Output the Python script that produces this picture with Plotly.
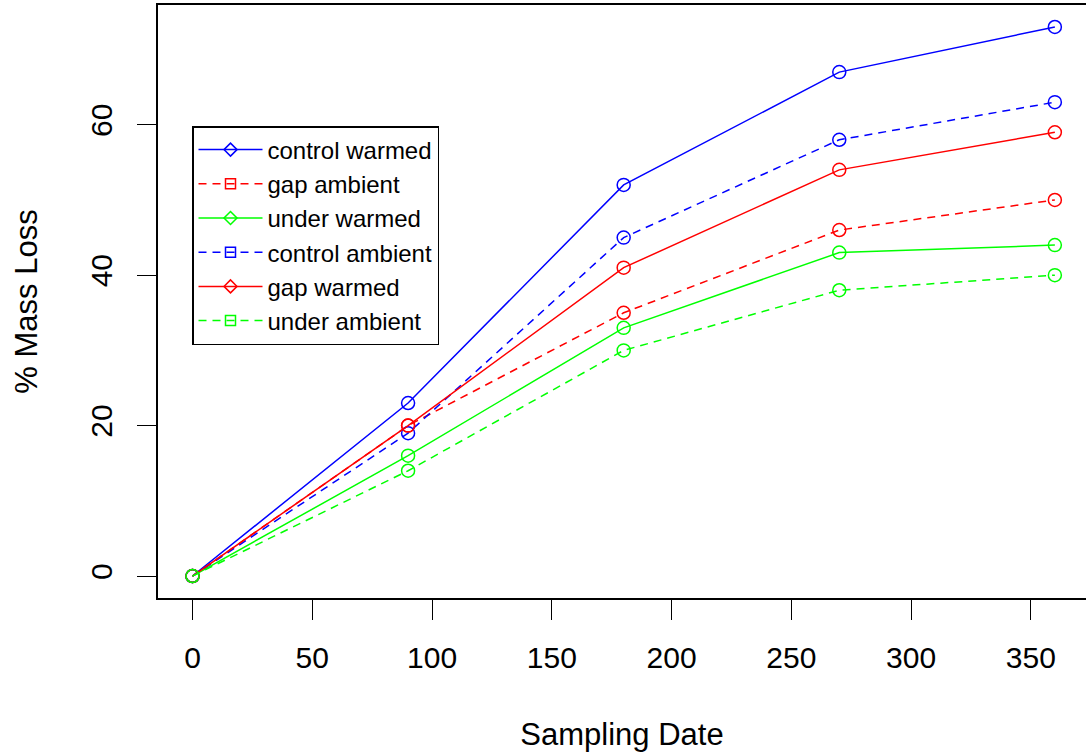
import plotly.graph_objects as go

days = [0, 90, 180, 270, 360]
control_warmed = [0, 23, 52, 67, 73]
control_ambient = [0, 19, 45, 58, 63]
gap_warmed = [0, 20, 41, 54, 59]
gap_ambient = [0, 20, 35, 46, 50]
under_warmed = [0, 16, 33, 43, 44]
under_ambient = [0, 14, 30, 38, 40]

x_ticks = [0, 50, 100, 150, 200, 250, 300, 350]
y_ticks = [0, 20, 40, 60]

BLUE, RED, GREEN = "#0000FF", "#FF0000", "#00FF00"
DASH = "8px,6px"
FONT = "Liberation Sans, Arial, sans-serif"

series = [
    ("control warmed", control_warmed, BLUE, "solid", "diamond-open"),
    ("gap ambient", gap_ambient, RED, DASH, "square-open"),
    ("under warmed", under_warmed, GREEN, "solid", "diamond-open"),
    ("control ambient", control_ambient, BLUE, DASH, "square-open"),
    ("gap warmed", gap_warmed, RED, "solid", "diamond-open"),
    ("under ambient", under_ambient, GREEN, DASH, "square-open"),
]

fig = go.Figure()
for name, vals, col, dash, sym in series:
    fig.add_trace(go.Scatter(
        x=days, y=vals, mode="lines+markers", name=name, showlegend=False,
        line=dict(color=col, width=1.5, dash=dash),
        marker=dict(symbol="circle-open", size=13, color=col, line=dict(width=1.5, color=col)),
    ))
for name, vals, col, dash, sym in series:
    fig.add_trace(go.Scatter(
        x=[None], y=[None], mode="lines+markers", name=name,
        line=dict(color=col, width=1.5, dash=dash),
        marker=dict(symbol=sym, size=10, color=col, line=dict(width=1.5, color=col)),
    ))

fig.update_layout(
    width=1086, height=753,
    margin=dict(l=158, r=0, t=5, b=155),
    paper_bgcolor="white", plot_bgcolor="white",
    font=dict(family=FONT, size=30, color="black"),
    showlegend=True,
    legend=dict(
        x=(192 - 158) / 928, y=(598 - 126) / 593, xanchor="left", yanchor="top",
        bgcolor="white", bordercolor="black", borderwidth=1.5,
        font=dict(family=FONT, size=24, color="black"),
        itemwidth=64,
    ),
    xaxis=dict(
        range=[-14.4, 373], tickvals=x_ticks, ticks="outside", ticklen=20,
        tickwidth=1.2, tickcolor="black", showline=True, linecolor="black",
        linewidth=1.5, mirror=True, showgrid=False, zeroline=False,
        ticklabelstandoff=12,
        title=dict(text="Sampling Date", standoff=51, font=dict(size=31)),
        tickfont=dict(size=30),
    ),
    yaxis=dict(
        range=[-2.92, 75.92], tickvals=y_ticks, ticks="outside", ticklen=19,
        tickwidth=1.2, tickcolor="black", showline=True, linecolor="black",
        linewidth=1.5, mirror=False, showgrid=False, zeroline=False,
        tickangle=-90, ticklabelstandoff=13,
        title=dict(text="% Mass Loss", standoff=38, font=dict(size=31)),
        tickfont=dict(size=30),
    ),
)

fig.write_html("out.html")
